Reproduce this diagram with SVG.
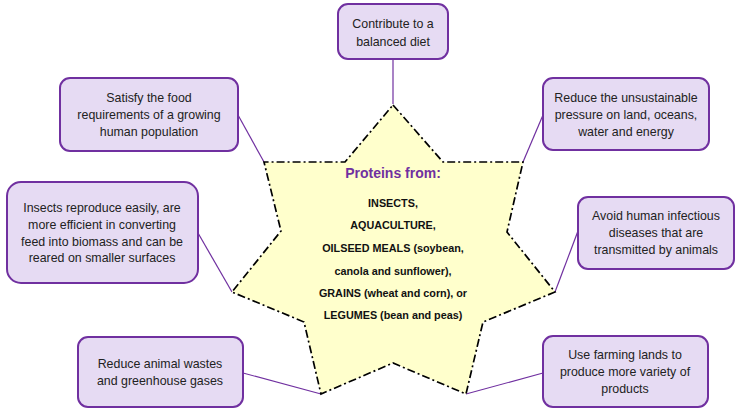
<svg xmlns="http://www.w3.org/2000/svg" width="736" height="409" viewBox="0 0 736 409">
<style>
.box{fill:#e6dbf3;stroke:#7030a0;stroke-width:2}
.t{font-family:"Liberation Sans",Arial,sans-serif;font-size:12.4px;fill:#222;text-anchor:middle}
.c{stroke:#7030a0;stroke-width:1.2;fill:none}
.s{font-family:"Liberation Sans",Arial,sans-serif;font-size:10.8px;font-weight:bold;fill:#111;text-anchor:middle}
</style>
<rect width="736" height="409" fill="#fff"/>
<g id="connectors">
<line class="c" x1="393" y1="59" x2="393" y2="104"/>
<line class="c" x1="238" y1="115" x2="264" y2="162"/>
<line class="c" x1="543" y1="115" x2="523" y2="162"/>
<line class="c" x1="198" y1="233" x2="232" y2="292"/>
<line class="c" x1="578" y1="231" x2="555" y2="292"/>
<line class="c" x1="243" y1="373" x2="321" y2="394"/>
<line class="c" x1="543" y1="373" x2="466" y2="394"/>
</g>
<g id="star">
<polygon points="393,105 443,162 523,162 507,232 555,292 483,322 466,394 393,363 321,394 304,322 232,292 281,231 264,162 345,162" fill="#ffffcc" stroke="#000" stroke-width="1.7" stroke-dasharray="8 3 2 3"/>
<text x="393" y="178" font-family="'Liberation Sans',Arial,sans-serif" font-size="14" font-weight="bold" fill="#7030a0" text-anchor="middle">Proteins from:</text>
<text class="s" x="393" y="207">INSECTS,</text>
<text class="s" x="393" y="229">AQUACULTURE,</text>
<text class="s" x="393" y="252">OILSEED MEALS (soybean,</text>
<text class="s" x="393" y="275">canola and sunflower),</text>
<text class="s" x="393" y="297">GRAINS (wheat and corn), or</text>
<text class="s" x="393" y="319">LEGUMES (bean and peas)</text>
</g>
<g id="n-diet">
<rect class="box" x="338" y="4" width="110" height="55" rx="10"/>
<text class="t" x="393" y="28">Contribute to a</text>
<text class="t" x="393" y="46">balanced diet</text>
</g>
<g id="n-satisfy">
<rect class="box" x="60" y="78" width="178" height="73" rx="10"/>
<text class="t" x="149" y="102">Satisfy the food</text>
<text class="t" x="149" y="119">requirements of a growing</text>
<text class="t" x="149" y="136">human population</text>
</g>
<g id="n-pressure">
<rect class="box" x="543" y="78" width="166" height="72" rx="10"/>
<text class="t" x="626" y="102">Reduce the unsustainable</text>
<text class="t" x="626" y="119">pressure on land, oceans,</text>
<text class="t" x="626" y="136">water and energy</text>
</g>
<g id="n-insects">
<rect class="box" x="7" y="182" width="191" height="101" rx="14"/>
<text class="t" x="102" y="212">Insects reproduce easily, are</text>
<text class="t" x="102" y="229">more efficient in converting</text>
<text class="t" x="102" y="246">feed into biomass and can be</text>
<text class="t" x="102" y="262">reared on smaller surfaces</text>
</g>
<g id="n-avoid">
<rect class="box" x="578" y="197" width="156" height="72" rx="10"/>
<text class="t" x="656" y="220">Avoid human infectious</text>
<text class="t" x="656" y="237">diseases that are</text>
<text class="t" x="656" y="254">transmitted by animals</text>
</g>
<g id="n-wastes">
<rect class="box" x="78" y="337" width="165" height="70" rx="10"/>
<text class="t" x="160" y="368">Reduce animal wastes</text>
<text class="t" x="160" y="385">and greenhouse gases</text>
</g>
<g id="n-farming">
<rect class="box" x="543" y="336" width="165" height="71" rx="10"/>
<text class="t" x="625" y="359">Use farming lands to</text>
<text class="t" x="625" y="376">produce more variety of</text>
<text class="t" x="625" y="393">products</text>
</g>
</svg>
